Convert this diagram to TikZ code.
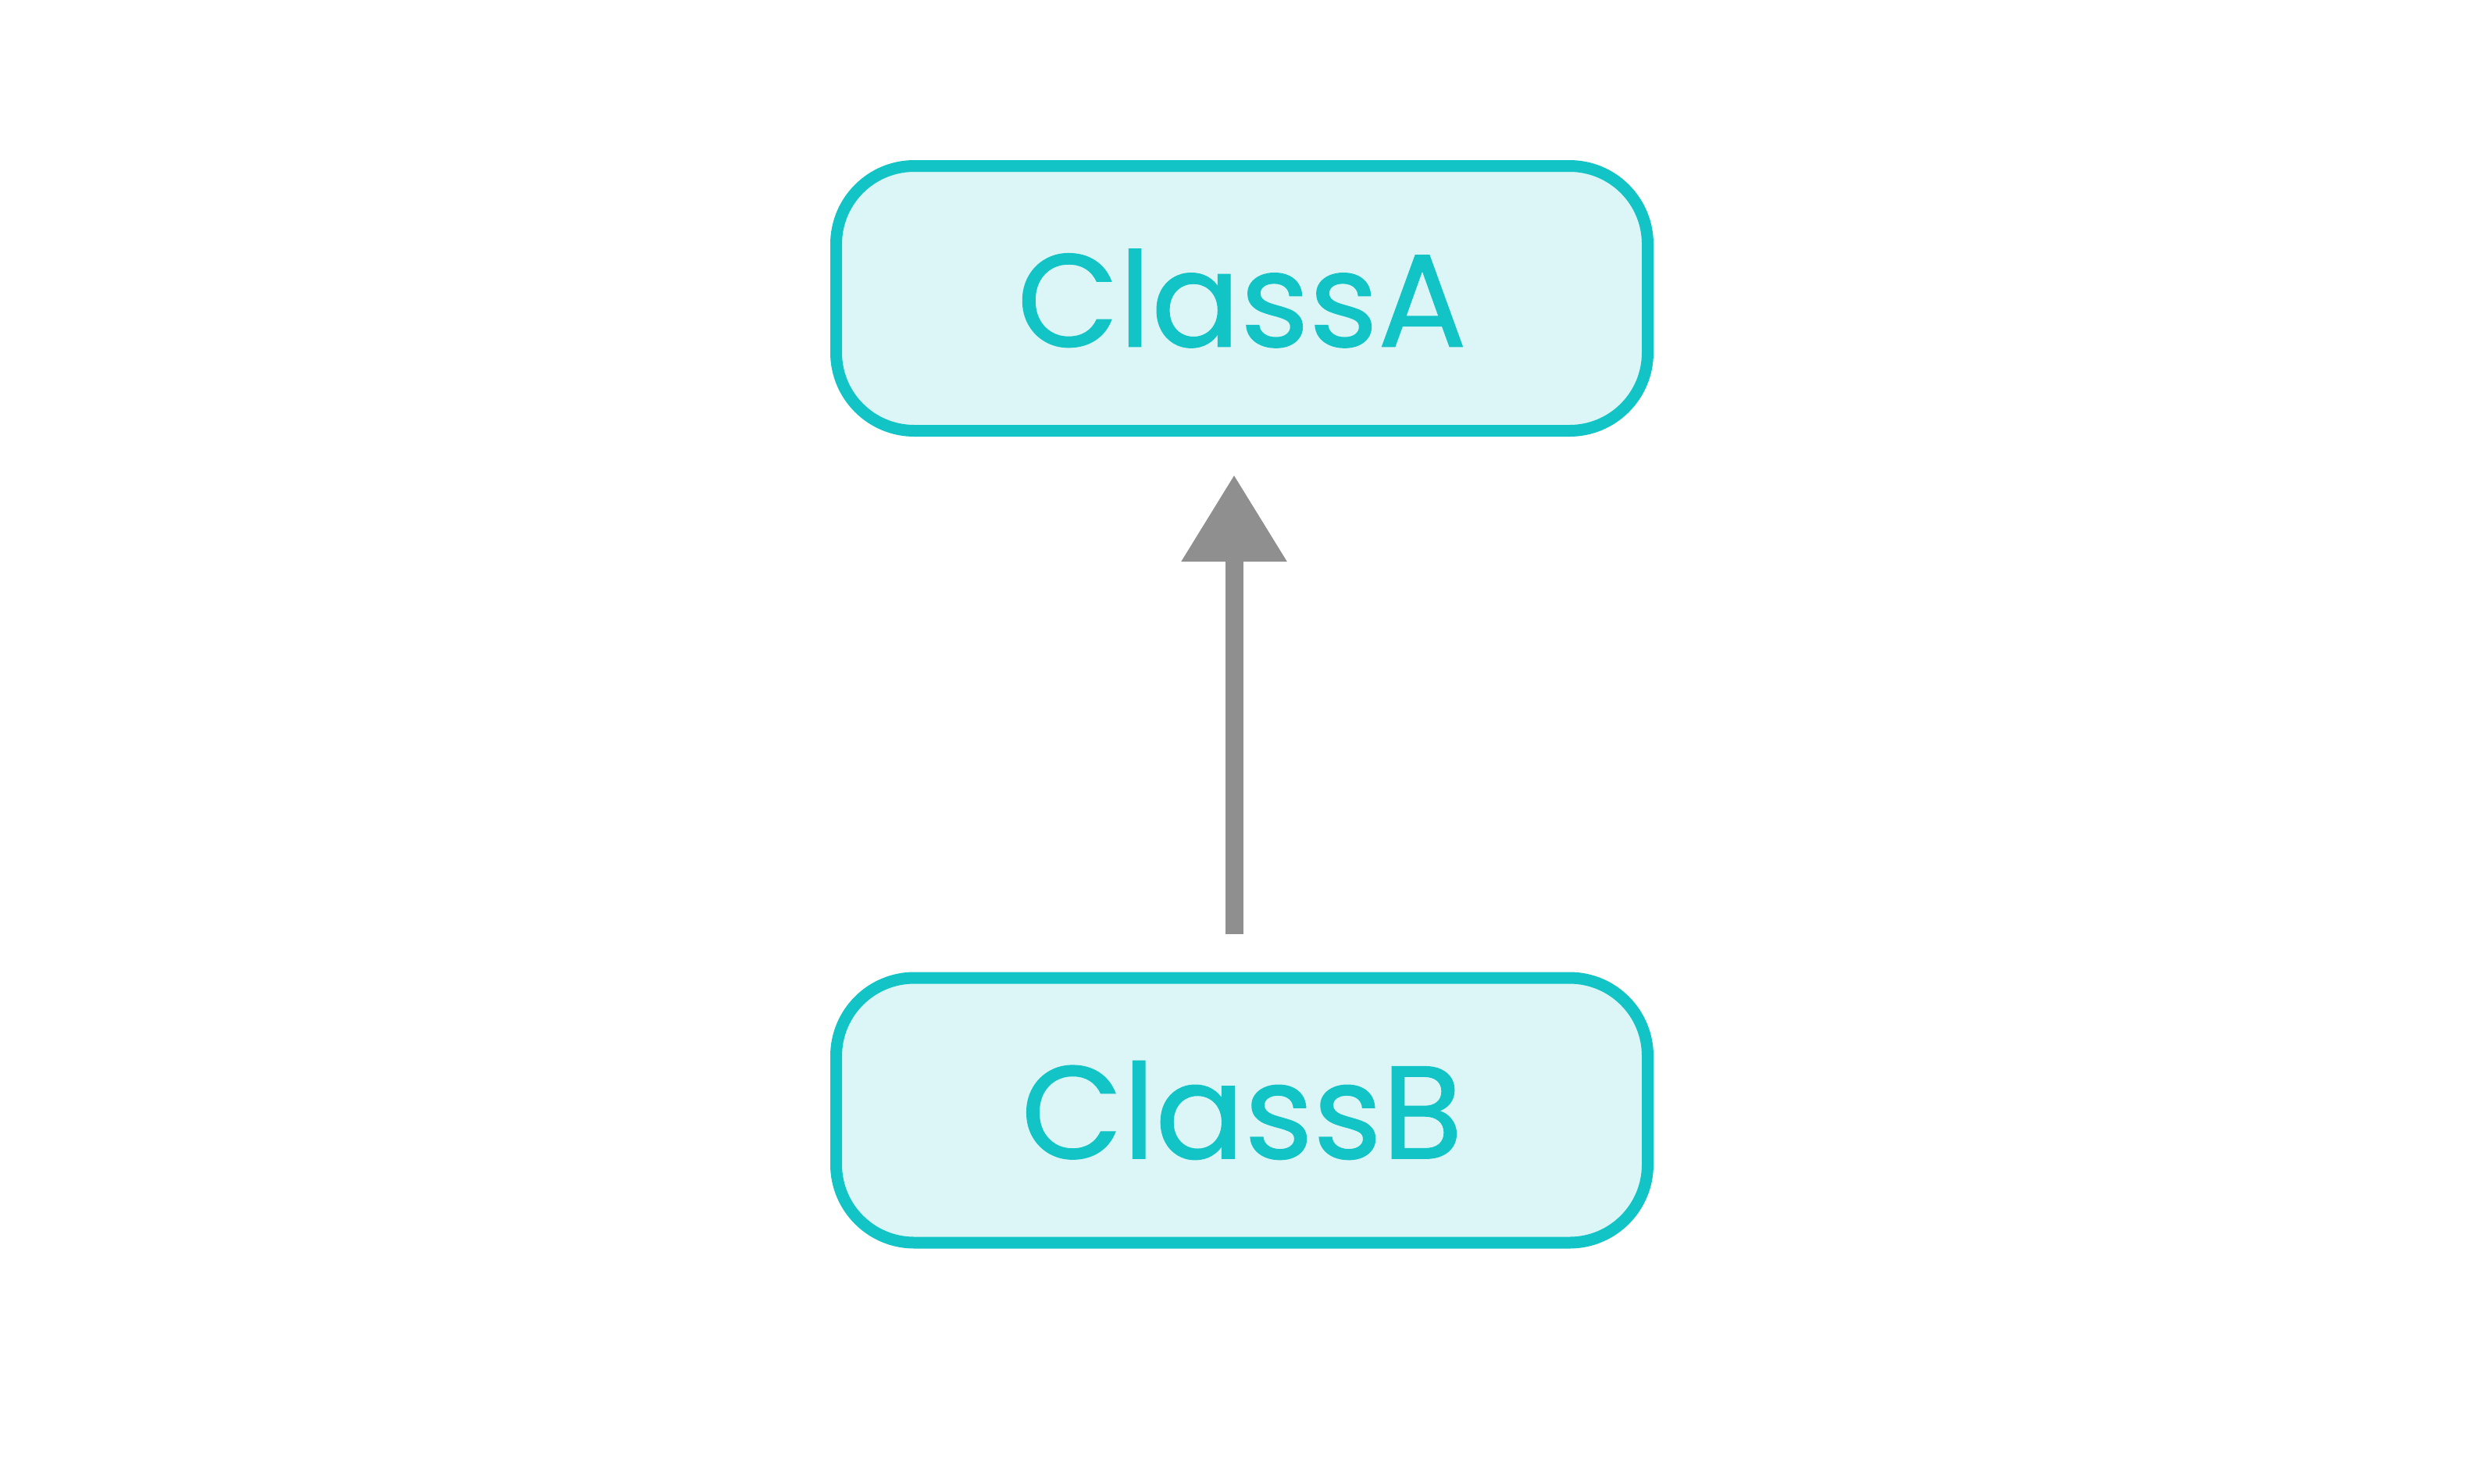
\documentclass[tikz,border=0pt]{standalone}
\usepackage{fontspec}
\setmainfont{Poppins}[FakeBold=0.8]
\usetikzlibrary{arrows.meta}
\definecolor{boxline}{HTML}{12C4C6}
\definecolor{boxfill}{HTML}{DCF6F7}
\definecolor{arrowgray}{HTML}{8F8F8F}
\tikzset{
  classbox/.style={draw=boxline, fill=boxfill, line width=0.15cm, rounded corners=1.0cm,
    minimum width=10.39cm, minimum height=3.39cm, inner sep=0pt,
    text=boxline, font=\fontsize{48}{56}\selectfont},
  inherit/.style={draw=arrowgray, line width=0.23cm,
    -{Triangle[length=1.11cm, width=1.29cm, fill=arrowgray]}}
}
\begin{document}
\begin{tikzpicture}
\useasboundingbox (0,0) rectangle (31.79,-18.99);
\node[classbox] (A) at (15.90,-3.82) {ClassA};
\node[classbox] (B) at (15.90,-14.215) {ClassB};
\draw[inherit, shorten <=0.49cm, shorten >=0.49cm]
  ([xshift=-0.10cm]B.north) -- ([xshift=-0.10cm]A.south);
\end{tikzpicture}
\end{document}
